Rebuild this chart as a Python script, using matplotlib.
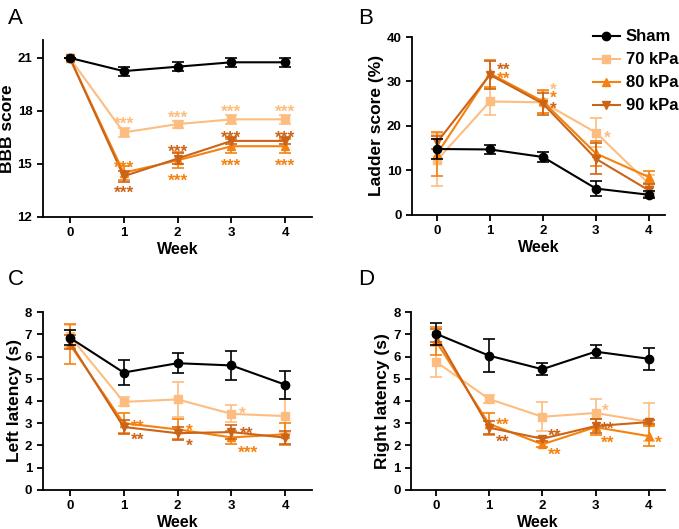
import matplotlib
matplotlib.use("Agg")
import matplotlib.pyplot as plt
from matplotlib.lines import Line2D

plt.rcParams['font.family'] = ['Liberation Sans', 'DejaVu Sans']
plt.rcParams['font.weight'] = 'bold'

weeks = [0, 1, 2, 3, 4]
groups = ["Sham", "70 kPa", "80 kPa", "90 kPa"]

# BBB score
bbb_mean = {
    "Sham": [21.0, 20.25, 20.5, 20.75, 20.75],
    "70 kPa": [21.0, 16.78, 17.25, 17.52, 17.52],
    "80 kPa": [21.0, 14.5, 15.2, 16.0, 16.0],
    "90 kPa": [21.0, 14.3, 15.3, 16.3, 16.3],
}
bbb_err = {
    "Sham": [0, 0.25, 0.25, 0.25, 0.25],
    "70 kPa": [0, 0.25, 0.2, 0.25, 0.25],
    "80 kPa": [0, 0.4, 0.45, 0.4, 0.4],
    "90 kPa": [0, 0.3, 0.3, 0.2, 0.2],
}

# Ladder score
ladder_mean = {
    "Sham": [14.8, 14.7, 13.0, 5.9, 4.5],
    "70 kPa": [12.3, 25.5, 25.3, 18.5, 7.0],
    "80 kPa": [13.7, 31.8, 25.5, 13.8, 8.5],
    "90 kPa": [16.3, 31.5, 25.0, 12.6, 5.5],
}
ladder_err = {
    "Sham": [2.2, 1.0, 1.2, 1.6, 0.8],
    "70 kPa": [5.8, 3.0, 2.5, 3.2, 2.0],
    "80 kPa": [5.0, 3.0, 2.5, 2.8, 1.3],
    "90 kPa": [1.5, 3.2, 2.5, 3.5, 1.5],
}

# Left latency
left_mean = {
    "Sham": [6.85, 5.28, 5.7, 5.6, 4.73],
    "70 kPa": [6.93, 3.96, 4.07, 3.42, 3.32],
    "80 kPa": [6.55, 3.0, 2.72, 2.36, 2.5],
    "90 kPa": [6.65, 2.83, 2.55, 2.6, 2.35],
}
left_err = {
    "Sham": [0.35, 0.55, 0.45, 0.67, 0.62],
    "70 kPa": [0.5, 0.2, 0.8, 0.38, 0.75],
    "80 kPa": [0.9, 0.45, 0.45, 0.3, 0.5],
    "90 kPa": [0.3, 0.3, 0.3, 0.3, 0.3],
}

# Right latency
right_mean = {
    "Sham": [7.03, 6.04, 5.43, 6.22, 5.9],
    "70 kPa": [5.77, 4.09, 3.29, 3.46, 3.06],
    "80 kPa": [6.7, 2.97, 2.05, 2.82, 2.42],
    "90 kPa": [6.96, 2.8, 2.3, 2.87, 3.05],
}
right_err = {
    "Sham": [0.5, 0.73, 0.27, 0.3, 0.5],
    "70 kPa": [0.7, 0.2, 0.65, 0.63, 0.85],
    "80 kPa": [0.65, 0.48, 0.1, 0.35, 0.45],
    "90 kPa": [0.3, 0.3, 0.1, 0.3, 0.1],
}

# significance marks: (group, week, label, dx px, dy px)
bbb_stars = [
    ("70 kPa", 1, "***", 0, 14), ("70 kPa", 2, "***", 0, 12),
    ("70 kPa", 3, "***", 0, 13), ("70 kPa", 4, "***", 0, 13),
    ("80 kPa", 1, "***", 0, 10), ("80 kPa", 2, "***", 0, -15),
    ("80 kPa", 3, "***", 0, -14), ("80 kPa", 4, "***", 0, -14),
    ("90 kPa", 1, "***", 0, -11), ("90 kPa", 2, "***", 0, 12),
    ("90 kPa", 3, "***", 0, 9), ("90 kPa", 4, "***", 0, 9),
]
ladder_stars = [
    ("90 kPa", 1, "**", 14, 11), ("80 kPa", 1, "**", 14, 0),
    ("70 kPa", 2, "*", 10, 18), ("80 kPa", 2, "*", 10, 9),
    ("90 kPa", 2, "*", 10, 0), ("70 kPa", 3, "*", 11, 0),
]
left_stars = [
    ("80 kPa", 1, "**", 14, 2), ("90 kPa", 1, "**", 14, -7),
    ("80 kPa", 2, "*", 12, 4), ("90 kPa", 2, "*", 12, -7),
    ("70 kPa", 3, "*", 11, 6), ("90 kPa", 3, "**", 15, 4),
    ("80 kPa", 3, "***", 17, -10),
]
right_stars = [
    ("80 kPa", 1, "**", 14, 5), ("90 kPa", 1, "**", 14, -9),
    ("90 kPa", 2, "**", 12, 8), ("80 kPa", 2, "**", 12, -5),
    ("70 kPa", 3, "*", 10, 8), ("90 kPa", 3, "**", 12, 3),
    ("80 kPa", 3, "**", 12, -10), ("80 kPa", 4, "*", 10, -1),
]

colors = {"Sham": "black", "70 kPa": "#FDBD80", "80 kPa": "#F5820F", "90 kPa": "#CC6418"}
markers = {"Sham": "o", "70 kPa": "s", "80 kPa": "^", "90 kPa": "v"}
zorders = {"Sham": 6, "70 kPa": 3, "80 kPa": 4, "90 kPa": 5}


def draw_panel(ax, means, errs, stars, ylim, yticks, ylabel, xlim):
    for g in groups:
        ax.errorbar(weeks, means[g], yerr=errs[g], color=colors[g], marker=markers[g],
                    markersize=6, lw=1.5, capsize=4, capthick=1.2, elinewidth=1.2,
                    zorder=zorders[g])
    for g, w, lab, dx, dy in stars:
        y = means[g][weeks.index(w)]
        # asterisk sits high in the text box, so anchor on the baseline
        ax.annotate(lab, (w, y), xytext=(dx, dy - 10.5), textcoords='offset pixels',
                    ha='center', va='baseline', color=colors[g], fontsize=12.5,
                    fontweight='bold', zorder=7)
    ax.set_xlim(*xlim)
    ax.set_ylim(*ylim)
    ax.set_yticks(yticks)
    ax.set_xticks(weeks)
    ax.set_xlabel("Week", fontsize=11.5, fontweight='bold', labelpad=2)
    ax.set_ylabel(ylabel, fontsize=12.5, fontweight='bold', labelpad=2)
    for s in ['top', 'right']:
        ax.spines[s].set_visible(False)
    for s in ['left', 'bottom']:
        ax.spines[s].set_linewidth(1.3)
    ax.tick_params(width=1.3, length=4, labelsize=9.5)
    for t in ax.get_xticklabels() + ax.get_yticklabels():
        t.set_fontweight('bold')


fig = plt.figure(figsize=(6.79, 5.29), dpi=100)
axA = fig.add_axes([0.063, 0.590, 0.397, 0.334])
axB = fig.add_axes([0.607, 0.594, 0.372, 0.336])
axC = fig.add_axes([0.063, 0.074, 0.397, 0.336])
axD = fig.add_axes([0.605, 0.074, 0.374, 0.336])

draw_panel(axA, bbb_mean, bbb_err, bbb_stars, (12, 22), [12, 15, 18, 21], "BBB score", (-0.5, 4.5))
draw_panel(axB, ladder_mean, ladder_err, ladder_stars, (0, 40), [0, 10, 20, 30, 40],
           "Ladder score (%)", (-0.47, 4.3))
draw_panel(axC, left_mean, left_err, left_stars, (0, 8), range(9), "Left latency (s)", (-0.5, 4.5))
draw_panel(axD, right_mean, right_err, right_stars, (0, 8), range(9), "Right latency (s)", (-0.47, 4.3))

handles = [Line2D([], [], color=colors[g], marker=markers[g], markersize=6, lw=1.5) for g in groups]
axB.legend(handles, groups, loc='upper left', bbox_to_anchor=(0.69, 1.08), frameon=False,
           prop={'size': 12, 'weight': 'bold'}, handlelength=1.6,
           handletextpad=0.35, labelspacing=0.48, borderaxespad=0)

for lab, x, y in [("A", 0.012, 0.985), ("B", 0.528, 0.985), ("C", 0.012, 0.492), ("D", 0.528, 0.492)]:
    fig.text(x, y, lab, fontsize=16, fontweight='normal', va='top', ha='left')

fig.savefig("out.png", dpi=100)
